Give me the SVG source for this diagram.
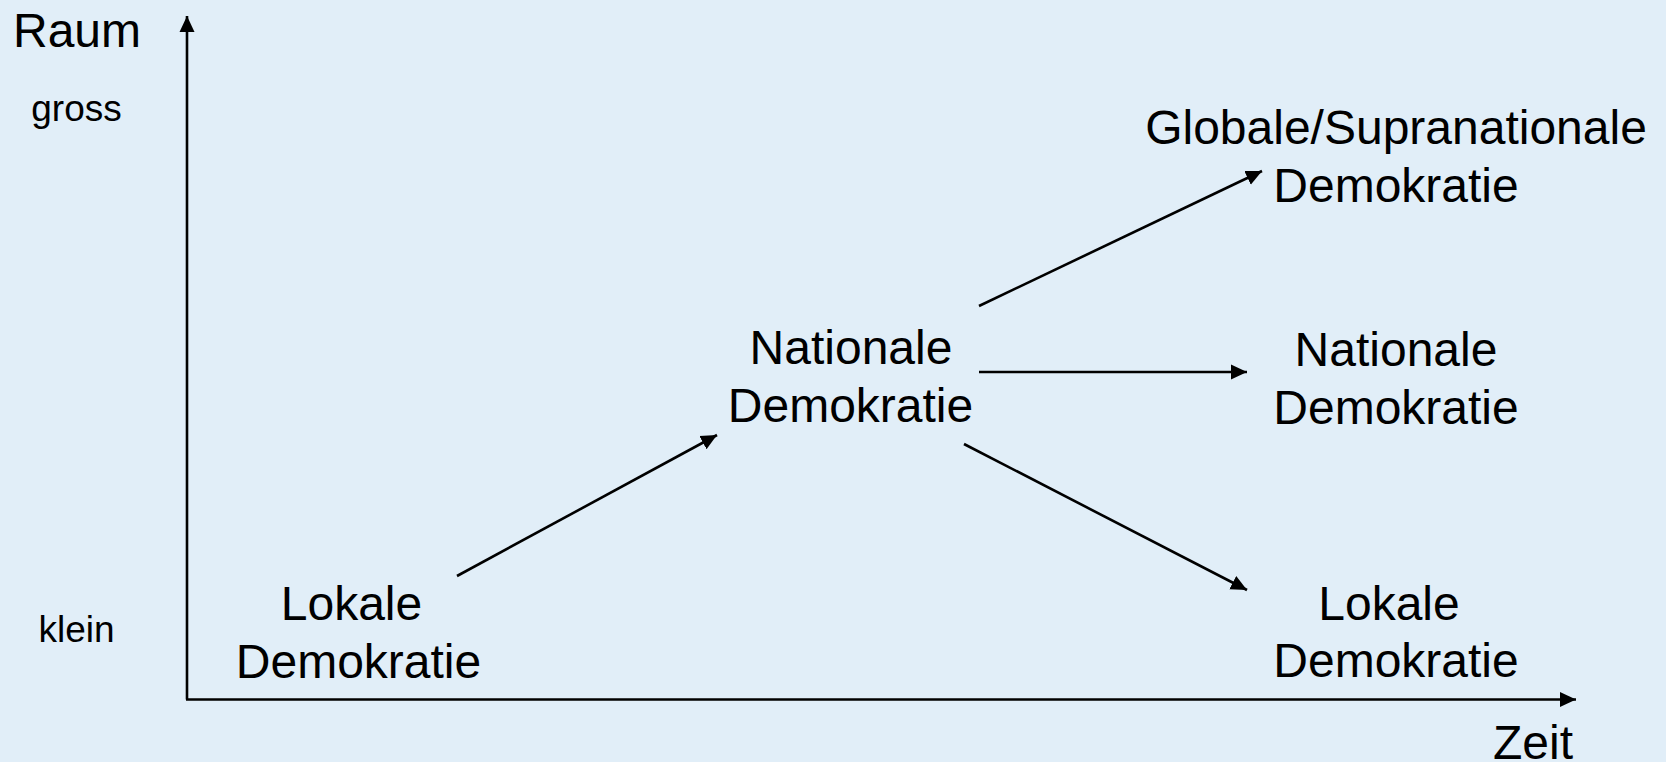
<svg xmlns="http://www.w3.org/2000/svg" width="1666" height="762" viewBox="0 0 1666 762">
  <style>
    .bg { fill: #E1EEF8; }
    .axis, .conn { stroke: #000; stroke-width: 2.6; fill: none; }
    text { font-family: "Liberation Sans", Arial, sans-serif; fill: #000; text-anchor: middle; }
    .big { font-size: 48px; }
    .small { font-size: 37px; }
  </style>
  <defs>
    <marker id="arrow" markerUnits="userSpaceOnUse" markerWidth="17" markerHeight="17" viewBox="0 0 17 17" refX="16" refY="8.5" orient="auto">
      <path d="M0,1 L16,8.5 L0,16 Z" fill="#000"/>
    </marker>
  </defs>

  <rect class="bg" x="0" y="0" width="1666" height="762"/>

  <!-- axes -->
  <g id="axes">
    <line class="axis" x1="187" y1="699.5" x2="187" y2="16" marker-end="url(#arrow)"/>
    <line class="axis" x1="186" y1="699.5" x2="1576" y2="699.5" marker-end="url(#arrow)"/>
    <text class="big" x="77" y="47">Raum</text>
    <text class="small" x="76.5" y="121">gross</text>
    <text class="small" x="76.5" y="641.5">klein</text>
    <text class="big" x="1533" y="759">Zeit</text>
  </g>

  <!-- connectors -->
  <g id="connectors">
    <line class="conn" x1="457" y1="576" x2="717" y2="435" marker-end="url(#arrow)"/>
    <line class="conn" x1="979" y1="306" x2="1262" y2="171" marker-end="url(#arrow)"/>
    <line class="conn" x1="979" y1="372" x2="1247" y2="372" marker-end="url(#arrow)"/>
    <line class="conn" x1="964" y1="444" x2="1247" y2="590" marker-end="url(#arrow)"/>
  </g>

  <!-- nodes -->
  <g id="node-lokal-start">
    <text class="big" x="351.5" y="619.5">Lokale</text>
    <text class="big" x="358.5" y="678">Demokratie</text>
  </g>
  <g id="node-national-mid">
    <text class="big" x="851" y="364">Nationale</text>
    <text class="big" x="850.5" y="422">Demokratie</text>
  </g>
  <g id="node-global">
    <text class="big" x="1396" y="144">Globale/Supranationale</text>
    <text class="big" x="1396" y="202">Demokratie</text>
  </g>
  <g id="node-national-end">
    <text class="big" x="1396" y="366">Nationale</text>
    <text class="big" x="1396" y="424">Demokratie</text>
  </g>
  <g id="node-lokal-end">
    <text class="big" x="1389" y="619.5">Lokale</text>
    <text class="big" x="1396" y="677">Demokratie</text>
  </g>
</svg>
